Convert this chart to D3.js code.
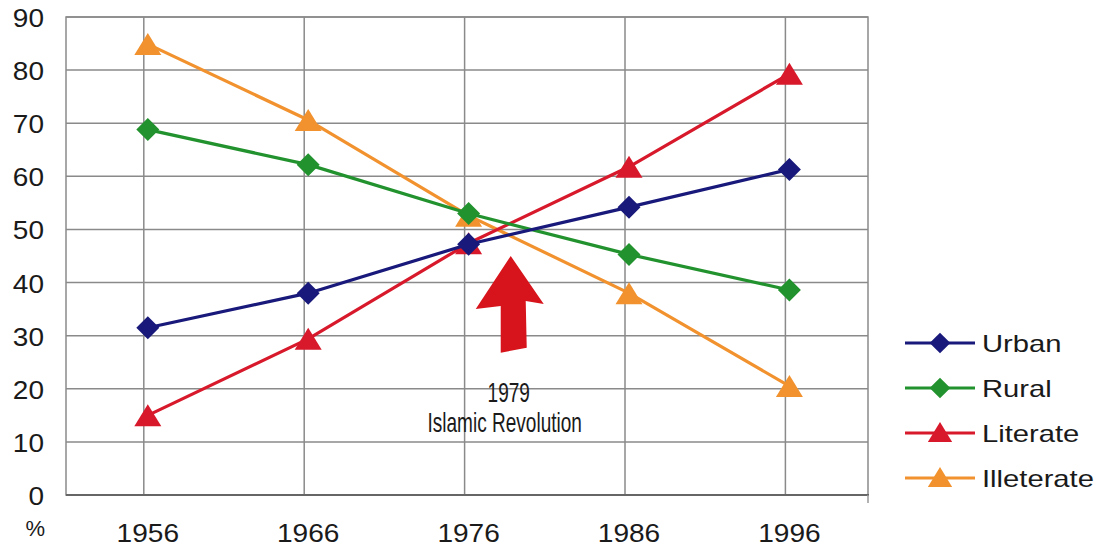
<!DOCTYPE html>
<html>
<head>
<meta charset="utf-8">
<script src="https://cdn.jsdelivr.net/npm/d3@7"></script>
<style>
  html, body { margin: 0; padding: 0; background: #fff; }
  svg { display: block; }
  text { font-family: "Liberation Sans", Arial, sans-serif; fill: #1a1a1a; }
</style>
</head>
<body>
<svg id="chart" width="1113" height="548"></svg>
<script>
// Census years and shares (%) of the population
const years = [1956, 1966, 1976, 1986, 1996];
const urban = [31.5, 38.0, 47.2, 54.2, 61.3];
const rural = [68.8, 62.2, 53.0, 45.3, 38.6];
const literate = [15.0, 29.4, 47.4, 61.8, 79.3];
const illiterate = [84.9, 70.6, 52.6, 38.0, 20.5];

const seriesNames = ["Urban", "Rural", "Literate", "Illeterate"];
const seriesValues = [urban, rural, literate, illiterate];
const seriesColors = ["#18197a", "#22922e", "#d7192b", "#f1922e"];
const seriesMarkers = ["diamond", "diamond", "triangle", "triangle"];

const yTicks = [0, 10, 20, 30, 40, 50, 60, 70, 80, 90];

// Annotation: the 1979 revolution arrow and caption
const eventYear = 1979;
const eventArrow = [45, 26.8];          // tip value, tail value
const eventLines = ["1979", "Islamic Revolution"];

const svg = d3.select("#chart");

const plot = { left: 66, right: 868, top: 17, bottom: 495 };

const x = d3.scaleLinear().domain([1950.9, 2000.9]).range([plot.left, plot.right]);
const y = d3.scaleLinear().domain([0, 90]).range([plot.bottom, plot.top]);
const gridShift = -4;   // vertical gridlines sit just left of the data columns

// plot frame
svg.append("rect")
  .attr("x", plot.left).attr("y", plot.top)
  .attr("width", plot.right - plot.left).attr("height", plot.bottom - plot.top)
  .attr("fill", "#fff").attr("stroke", "#8a8a8a").attr("stroke-width", 1.5);

// horizontal gridlines
svg.append("g").selectAll("line").data(yTicks.slice(1)).join("line")
  .attr("x1", plot.left).attr("x2", plot.right)
  .attr("y1", d => y(d)).attr("y2", d => y(d))
  .attr("stroke", "#8a8a8a").attr("stroke-width", 1.5);

// vertical gridlines
svg.append("g").selectAll("line").data(years).join("line")
  .attr("x1", d => x(d) + gridShift).attr("x2", d => x(d) + gridShift)
  .attr("y1", plot.top).attr("y2", plot.bottom)
  .attr("stroke", "#8a8a8a").attr("stroke-width", 1.5);

// baseline axis
svg.append("line")
  .attr("x1", plot.left).attr("x2", plot.right + 1)
  .attr("y1", plot.bottom).attr("y2", plot.bottom)
  .attr("stroke", "#666").attr("stroke-width", 2);
svg.append("line")
  .attr("x1", plot.right).attr("x2", plot.right)
  .attr("y1", plot.bottom).attr("y2", plot.bottom + 8)
  .attr("stroke", "#999").attr("stroke-width", 1.5);

// y tick labels
svg.append("g").selectAll("text").data(yTicks).join("text")
  .attr("transform", d => `translate(44,${y(d) + 10}) scale(1.12,1)`)
  .attr("text-anchor", "end")
  .attr("font-size", 25)
  .text(d => d);

svg.append("text")
  .attr("transform", `translate(45,536)`)
  .attr("text-anchor", "end")
  .attr("font-size", 22)
  .text("%");

// x tick labels
svg.append("g").selectAll("text").data(years).join("text")
  .attr("transform", d => `translate(${x(d)},542) scale(1.08,1)`)
  .attr("text-anchor", "middle")
  .attr("font-size", 26)
  .text(d => d);

// marker shapes
function markerPath(kind) {
  if (kind === "diamond") {
    const r = 11.5;
    return `M0,${-r}L${r},0L0,${r}L${-r},0Z`;
  }
  const w = 27, h = 22;
  return `M0,${-h / 2}L${w / 2},${h / 2}L${-w / 2},${h / 2}Z`;
}

const line = d3.line().x(d => x(d[0])).y(d => y(d[1]));

// series, drawn from the last legend entry up so Urban ends on top
const drawOrder = [3, 2, 1, 0];
drawOrder.forEach(i => {
  const pts = years.map((yr, k) => [yr, seriesValues[i][k]]);
  const g = svg.append("g");
  g.append("path")
    .attr("d", line(pts))
    .attr("fill", "none")
    .attr("stroke", seriesColors[i])
    .attr("stroke-width", 3.2)
    .attr("stroke-linejoin", "round");
  g.selectAll("path.m").data(pts).join("path")
    .attr("class", "m")
    .attr("d", markerPath(seriesMarkers[i]))
    .attr("transform", d => `translate(${x(d[0])},${y(d[1])})`)
    .attr("fill", seriesColors[i]);
});

// event arrow
const ax = x(eventYear) - 6;
const tipY = y(eventArrow[0]);
const tailY = y(eventArrow[1]);
const headLen = 52;
const arrowPts = [
  [0, 0],
  [33, headLen - 4],
  [15, headLen - 7],
  [16, tailY - tipY - 5],
  [-10, tailY - tipY],
  [-10, headLen - 2],
  [-35, headLen + 1]
];
svg.append("path")
  .attr("d", d3.line()(arrowPts.map(p => [ax + p[0], tipY + p[1]])) + "Z")
  .attr("fill", "#d7141c");

// event caption
svg.append("g").selectAll("text").data(eventLines).join("text")
  .attr("transform", (d, i) => `translate(${x(eventYear) - 8 - i * 4},${y(17.6) + i * 30}) scale(0.68,1)`)
  .attr("text-anchor", "middle")
  .attr("font-size", 28)
  .attr("fill", "#222")
  .text(d => d);

// legend
const legendY = d3.scalePoint().domain(seriesNames).range([343, 478]);
const lg = svg.append("g").selectAll("g").data(seriesNames).join("g")
  .attr("transform", d => `translate(905,${legendY(d)})`);
lg.append("line")
  .attr("x1", 0).attr("x2", 70).attr("y1", 0).attr("y2", 0)
  .attr("stroke", (d, i) => seriesColors[i]).attr("stroke-width", 3.2);
lg.append("path")
  .attr("d", (d, i) => markerPath(seriesMarkers[i]))
  .attr("transform", (d, i) => seriesMarkers[i] === "diamond" ? "translate(35,0) scale(0.9)" : "translate(35,-1) scale(0.9)")
  .attr("fill", (d, i) => seriesColors[i]);
lg.append("text")
  .attr("transform", "translate(77,8.5) scale(1.27,1)")
  .attr("font-size", 23)
  .text(d => d);
</script>
</body>
</html>
